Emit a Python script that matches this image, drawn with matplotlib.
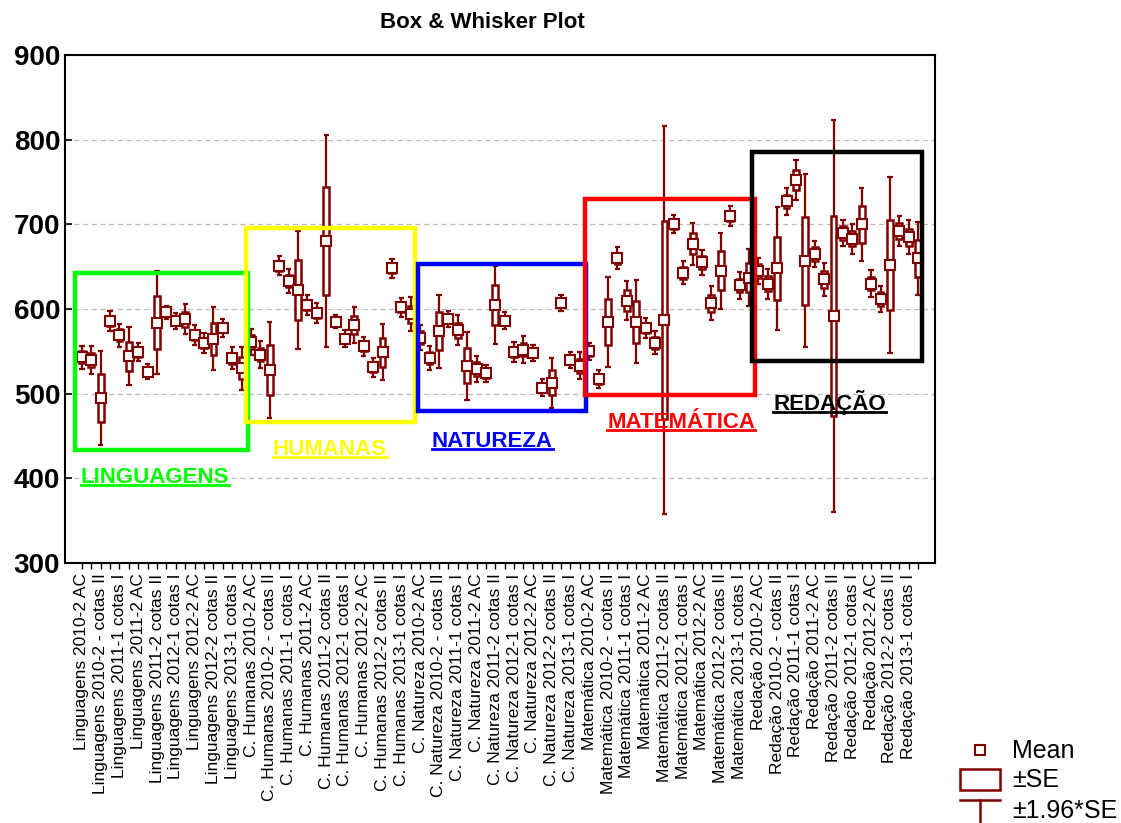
import matplotlib

matplotlib.use("Agg")
import matplotlib.pyplot as plt
import numpy as np
from matplotlib.lines import Line2D
from matplotlib.patches import Rectangle

plt.rcParams["font.family"] = ["Liberation Sans", "DejaVu Sans"]

DARK_RED = "#800000"

# exam editions / quota groups, same order inside every knowledge area
EDITIONS = [
    "2010-2 AC", "2010-2 - cotas I", "2010-2 - cotas II",
    "2011-1 AC", "2011-1 cotas I", "2011-1 cotas II",
    "2011-2 AC", "2011-2 cotas I", "2011-2 cotas II",
    "2012-1 AC", "2012-1 cotas I", "2012-1 cotas II",
    "2012-2 AC", "2012-2 cotas I", "2012-2 cotas II",
    "2013-1 AC", "2013-1 cotas I", "2013-1 cotas II",
]
AREA_PREFIX = ["Linguagens", "C. Humanas", "C. Natureza", "Matemática", "Redação"]

ling_mean = [543, 540, 495, 586, 569, 544, 549, 526, 584, 596, 586, 588, 569, 560, 565, 578, 542, 530]
ling_se = [7, 8.5, 28.5, 6, 7, 17.5, 5.5, 4.5, 31, 4, 4.7, 9, 6, 6, 19, 5.4, 6.4, 13]

hum_mean = [561, 546, 528, 651, 633, 622, 605, 595, 680, 585, 565, 581, 556, 531, 549, 648, 602, 594]
hum_se = [8, 8, 29, 5.7, 7, 35.5, 6, 6, 64, 4, 5, 11, 5.6, 5.8, 17, 5.8, 5.6, 10]

nat_mean = [566, 542, 574, 588, 575, 533, 529, 524, 605, 586, 549, 552, 548, 507, 513, 607, 540, 533]
nat_se = [7.5, 7.3, 22, 5, 9, 20.5, 8, 5, 23.5, 5.2, 6, 8, 5, 5, 15, 5, 5, 8]

mat_mean = [550, 517, 585, 660, 610, 585, 578, 560, 587, 700, 643, 677, 655, 607, 645, 710, 628, 637]
mat_se = [5, 5.5, 27, 6.5, 12, 25, 6, 7, 117, 5.5, 7, 12.5, 7.5, 10, 23, 6, 8, 17]

red_mean = [645, 630, 648, 727, 752, 657, 665, 635, 592, 690, 683, 700, 630, 612, 652, 692, 685, 660]
red_se = [8, 9, 37, 8, 12, 52, 8, 10, 118, 8, 9, 22, 8, 8, 53, 9, 10, 22]

# highlight boxes: (label, colour, x0, x1, y0, y1, label x, label y)
AREAS = [
    ("LINGUAGENS", "#00FF00", 0.25, 18.65, 434, 643, 8.8, 401),
    ("HUMANAS", "#FFFF00", 18.45, 36.4, 467, 696, 27.4, 434),
    ("NATUREZA", "#0000FF", 36.8, 54.7, 480, 653, 44.7, 443),
    ("MATEMÁTICA", "#FF0000", 54.5, 72.6, 499, 730, 64.8, 466),
    ("REDAÇÃO", "#000000", 72.3, 90.4, 538, 786, 80.6, 489),
]

means = np.array(ling_mean + hum_mean + nat_mean + mat_mean + red_mean, dtype=float)
ses = np.array(ling_se + hum_se + nat_se + mat_se + red_se, dtype=float)
names = [f"{p} {e}" for p in AREA_PREFIX for e in EDITIONS]
pos = np.arange(1, len(means) + 1)

fig = plt.figure(figsize=(11.21, 8.23), dpi=100)
ax = fig.add_axes([65 / 1121, 1 - 563 / 823, 870 / 1121, 508 / 823])

ax.set_xlim(-0.8, 91.8)
ax.set_ylim(300, 900)
ax.set_yticks(np.arange(300, 901, 100))
ax.tick_params(axis="y", labelsize=20, direction="in", length=5, width=1.2)
for lab in ax.get_yticklabels():
    lab.set_fontweight("bold")
ax.yaxis.grid(True, linestyle=(0, (4, 3)), color="#bbbbbb", linewidth=0.9)
ax.set_axisbelow(True)

ax.set_xticks(pos, minor=True)
ax.set_xticks(pos[::2])
ax.set_xticklabels(names[::2], rotation=90, fontsize=12.5)
ax.tick_params(axis="x", which="both", direction="out", length=4, width=1)
for s in ax.spines.values():
    s.set_linewidth(1.5)

lo = means - 1.96 * ses
hi = means + 1.96 * ses
ax.vlines(pos, lo, hi, color=DARK_RED, lw=1.6, zorder=3)
ax.hlines(lo, pos - 0.28, pos + 0.28, color=DARK_RED, lw=1.6, zorder=3)
ax.hlines(hi, pos - 0.28, pos + 0.28, color=DARK_RED, lw=1.6, zorder=3)
bw = 0.62
for x, m, s in zip(pos, means, ses):
    ax.add_patch(Rectangle((x - bw / 2, m - s), bw, 2 * s, facecolor="white",
                           edgecolor=DARK_RED, lw=1.8, zorder=4))
ax.plot(pos, means, "s", ms=7.5, mfc="white", mec=DARK_RED, mew=1.5, zorder=5)

area_texts = []
for label, col, x0, x1, y0, y1, tx, ty in AREAS:
    ax.add_patch(Rectangle((x0, y0), x1 - x0, y1 - y0, fill=False, edgecolor=col,
                           lw=3.2, zorder=6))
    t = ax.text(tx, ty, label, color=col, fontsize=16, fontweight="bold",
                ha="center", va="center", zorder=7)
    area_texts.append((t, col))

fig.text(482 / 1121, 1 - 22 / 823, "Box & Whisker Plot", ha="center", va="center",
         fontsize=16, fontweight="bold")

# underline the area labels
fig.canvas.draw()
inv = fig.transFigure.inverted()
for t, col in area_texts:
    bb = t.get_window_extent()
    (fx0, fy0), (fx1, _) = inv.transform([[bb.x0, bb.y0 + 3], [bb.x1, bb.y1]])
    fig.add_artist(Line2D([fx0, fx1], [fy0, fy0], color=col, lw=2))

# legend drawn in pixel coordinates at the lower right
lg = fig.add_axes([0, 0, 1, 1], zorder=10)
lg.set_xlim(0, 1121)
lg.set_ylim(823, 0)
lg.axis("off")
lg.plot([980], [750], "s", ms=7.5, mfc="white", mec=DARK_RED, mew=1.5)
lg.add_patch(Rectangle((960, 769), 40, 21, fill=False, edgecolor=DARK_RED, lw=1.8))
lg.plot([960, 1000], [800, 800], color=DARK_RED, lw=1.8)
lg.plot([980, 980], [800, 823], color=DARK_RED, lw=1.8)
for y, txt in [(751, "Mean"), (780, "±SE"), (811, "±1.96*SE")]:
    lg.text(1012, y, txt, fontsize=18, va="center", ha="left")

fig.savefig("out.png", dpi=100)
